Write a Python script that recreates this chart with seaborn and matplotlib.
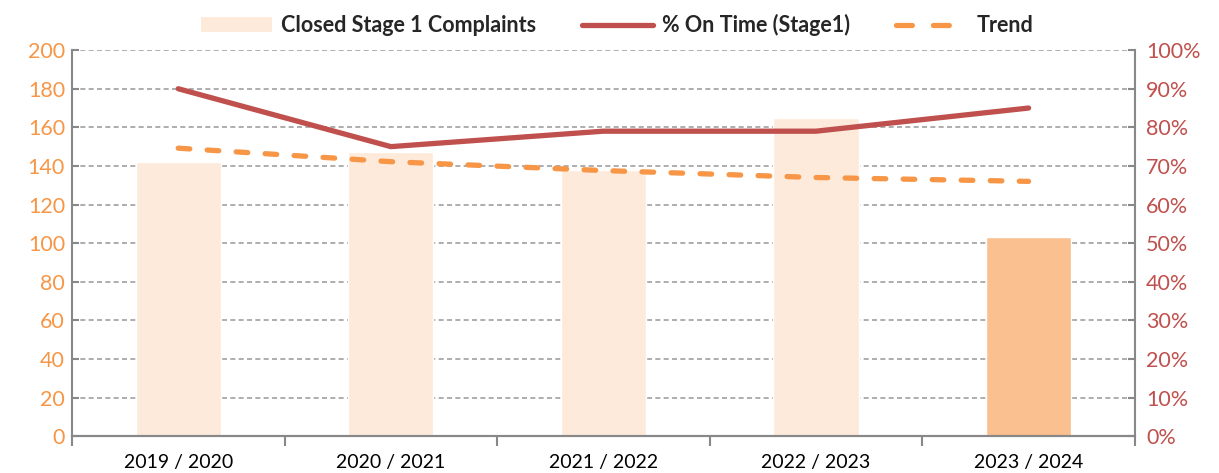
import numpy as np
import matplotlib.pyplot as plt
import seaborn as sns
from matplotlib.patches import Patch
from matplotlib.lines import Line2D

# data
years = ['2019 / 2020', '2020 / 2021', '2021 / 2022', '2022 / 2023', '2023 / 2024']
closed_complaints = [142, 147, 138, 165, 103]
pct_on_time = [90, 75, 79, 79, 85]
trend = [74.6, 71.1, 68.8, 67.0, 66.0]

bar_colors = ['#FDEADA', '#FDEADA', '#FDEADA', '#FDEADA', '#FAC090']

sns.set_style('white')
plt.rcParams['font.family'] = ['Lato', 'DejaVu Sans']

fig = plt.figure(figsize=(12.19, 4.73), dpi=100)
ax = fig.add_axes([0.059, 0.078, 0.872, 0.816])

sns.barplot(x=years, y=closed_complaints, hue=years, palette=bar_colors,
            saturation=1, legend=False, width=0.4, ax=ax, zorder=2)
ax.set_ylim(0, 200)
ax.set_yticks(np.arange(0, 201, 20))
ax.set_xlim(-0.5, 4.5)
ax.yaxis.grid(True, linestyle=(0, (3, 2)), color='#A0A0A0', linewidth=1.2, zorder=0)
ax.set_axisbelow(True)
ax.set_xlabel('')
ax.set_ylabel('')

ax2 = ax.twinx()
x = np.arange(len(years))
sns.lineplot(x=x, y=pct_on_time, color='#C0504D', linewidth=3.8, ax=ax2,
             solid_capstyle='round')
sns.lineplot(x=x, y=trend, color='#F79646', linewidth=3.8, ax=ax2,
             linestyle=(0, (2.2, 3.3)), dash_capstyle='round')
ax2.set_ylim(0, 100)
ax2.set_yticks(np.arange(0, 101, 10))
ax2.set_yticklabels([f'{v}%' for v in range(0, 101, 10)])
ax2.set_xlim(-0.5, 4.5)

for a in (ax, ax2):
    for s in a.spines.values():
        s.set_visible(False)
    a.spines['bottom'].set_visible(True)
    a.spines['bottom'].set_color('#888888')
    a.spines['bottom'].set_linewidth(1.5)
ax.spines['left'].set_visible(True)
ax.spines['left'].set_color('#888888')
ax.spines['left'].set_linewidth(1.5)
ax2.spines['right'].set_visible(True)
ax2.spines['right'].set_color('#888888')
ax2.spines['right'].set_linewidth(1.5)

ax.tick_params(axis='y', colors='#888888', labelcolor='#F79646', labelsize=15.5,
               length=5, width=1.5, direction='in', left=True, pad=5)
ax2.tick_params(axis='y', colors='#888888', labelcolor='#C0504D', labelsize=15.5,
                length=5, width=1.5, direction='in', right=True, pad=8)
ax.set_xticks(x)
ax.set_xticklabels(years)
ax.tick_params(axis='x', length=0, labelsize=14, labelcolor='black', pad=13)
ax.set_xticks(np.arange(-0.5, 5, 1), minor=True)
ax.tick_params(axis='x', which='minor', length=7, width=1.5, color='#888888',
               direction='out', bottom=True)
ax2.tick_params(axis='x', length=0, labelbottom=False)

handles = [Patch(facecolor='#FDEADA', edgecolor='none'),
           Line2D([0], [0], color='#C0504D', linewidth=3.8),
           Line2D([0], [0], color='#F79646', linewidth=3.8, linestyle=(0, (3, 4)),
                  dash_capstyle='round')]
labels = ['Closed Stage 1 Complaints', '% On Time (Stage1)', 'Trend']
fig.legend(handles, labels, loc='center', bbox_to_anchor=(0.506, 0.947), ncol=3,
           frameon=False, prop={'weight': 'bold', 'size': 15.5},
           handlelength=3.3, columnspacing=2.1, handletextpad=0.45)

fig.savefig('out.png', dpi=100)
